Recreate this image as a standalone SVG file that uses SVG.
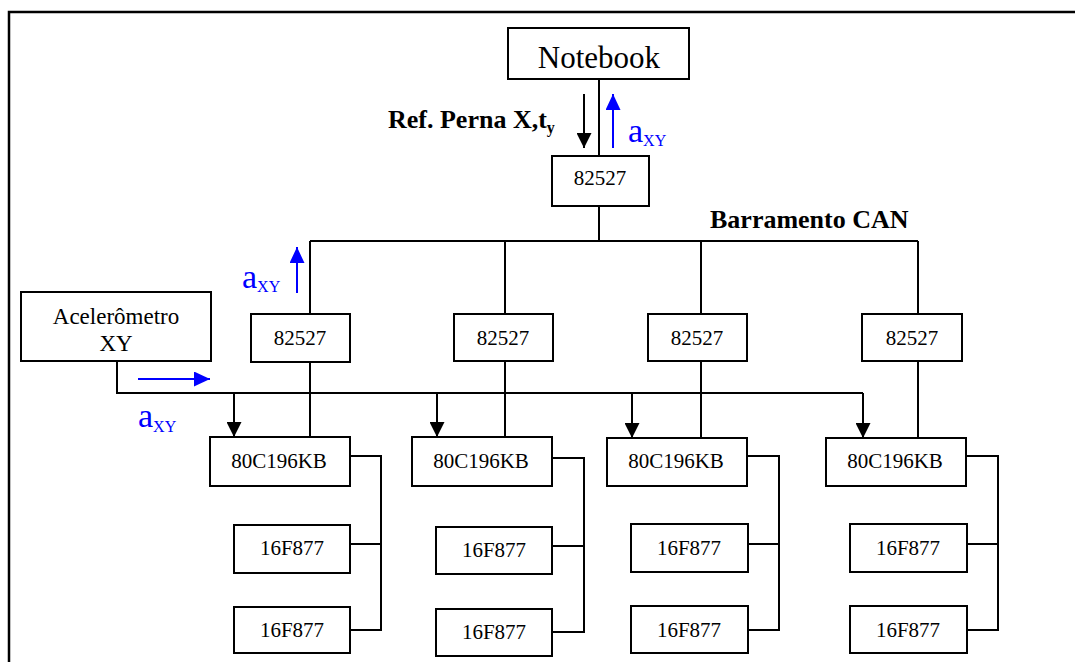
<svg xmlns="http://www.w3.org/2000/svg" width="1075" height="662" viewBox="0 0 1075 662" font-family="'Liberation Serif', 'Times New Roman', serif">
<style>
.box{fill:#fff;stroke:#000;stroke-width:2}
.ln{fill:none;stroke:#000;stroke-width:2}
.bl{fill:none;stroke:#0000ff;stroke-width:2}
.t{font-family:'Liberation Serif','Times New Roman',serif;font-size:21px;fill:#000;text-anchor:middle}
.b{font-family:'Liberation Serif','Times New Roman',serif;font-weight:bold;font-size:26px;fill:#000}
.a{font-family:'Liberation Serif','Times New Roman',serif;font-size:34px;fill:#0000ff}
</style>
<defs>
<marker id="ak" viewBox="0 0 15 15" refX="15" refY="7.5" markerWidth="15" markerHeight="15" markerUnits="userSpaceOnUse" orient="auto"><path d="M0,0 L15,7.5 L0,15 z" fill="#000"/></marker>
<marker id="ab" viewBox="0 0 16 15" refX="16" refY="7.5" markerWidth="16" markerHeight="15" markerUnits="userSpaceOnUse" orient="auto"><path d="M0,0 L16,7.5 L0,15 z" fill="#0000ff"/></marker>
</defs>
<rect width="1075" height="662" fill="#fff"/>
<path d="M9,662 V12 H1075" fill="none" stroke="#000" stroke-width="2.5"/>
<g id="connectors">
<path class="ln" d="M599,79 V156 M599,206 V241 M310,241 H918 M310,241 V314 M505,241 V314 M701,241 V314 M918,241 V314"/>
<path class="ln" d="M310,362 V437 M505,361 V437 M701,361 V438 M918,361 V438"/>
<path class="ln" d="M117,361 V393 H863"/>
<path class="ln" d="M234,393 V437" marker-end="url(#ak)"/>
<path class="ln" d="M437,393 V437" marker-end="url(#ak)"/>
<path class="ln" d="M632,393 V438" marker-end="url(#ak)"/>
<path class="ln" d="M863,393 V438" marker-end="url(#ak)"/>
<path class="ln" d="M350,456 H381 V630 H350 M350,544 H381"/>
<path class="ln" d="M552,458 H584 V632 H552 M552,546 H584"/>
<path class="ln" d="M747,456 H779 V630 H748 M748,544 H779"/>
<path class="ln" d="M966,456 H998 V630 H967 M967,544 H998"/>
<path class="ln" d="M584,94 V148" marker-end="url(#ak)"/>
<path class="bl" d="M613,148 V94" marker-end="url(#ab)"/>
<path class="bl" d="M297,293 V247" marker-end="url(#ab)"/>
<path class="bl" d="M138,379 H210" marker-end="url(#ab)"/>
</g>
<g id="labels">
<text class="b" x="388" y="128">Ref. Perna X,t<tspan font-size="16" dy="5">y</tspan></text>
<text class="a" x="628" y="142">a<tspan font-size="16" dy="4">XY</tspan></text>
<text class="a" x="242" y="288">a<tspan font-size="16" dy="4">XY</tspan></text>
<text class="a" x="138" y="427">a<tspan font-size="16" dy="5">XY</tspan></text>
<text class="b" x="710" y="228">Barramento CAN</text>
</g>
<g id="notebook"><rect class="box" x="508" y="28" width="181" height="51"/><text class="t" x="599" y="68" style="font-size:31px">Notebook</text></g>
<g id="can-top"><rect class="box" x="552" y="156" width="97" height="50"/><text class="t" x="600" y="185">82527</text></g>
<g id="acelerometro"><rect class="box" x="21" y="292" width="190" height="69"/><text class="t" x="116" y="324" style="font-size:23px">Acelerômetro</text><text class="t" x="116" y="351" style="font-size:23px">XY</text></g>
<g id="can1"><rect class="box" x="251" y="314" width="99" height="48"/><text class="t" x="300" y="345">82527</text></g>
<g id="can2"><rect class="box" x="454" y="314" width="99" height="47"/><text class="t" x="503" y="345">82527</text></g>
<g id="can3"><rect class="box" x="648" y="314" width="99" height="47"/><text class="t" x="697" y="345">82527</text></g>
<g id="can4"><rect class="box" x="862" y="314" width="100" height="47"/><text class="t" x="912" y="345">82527</text></g>
<g id="mcu1"><rect class="box" x="210" y="437" width="140" height="49"/><text class="t" x="279" y="468">80C196KB</text></g>
<g id="mcu2"><rect class="box" x="412" y="437" width="140" height="49"/><text class="t" x="481" y="468">80C196KB</text></g>
<g id="mcu3"><rect class="box" x="607" y="438" width="140" height="48"/><text class="t" x="676" y="468">80C196KB</text></g>
<g id="mcu4"><rect class="box" x="826" y="438" width="140" height="48"/><text class="t" x="895" y="468">80C196KB</text></g>
<g id="pic1a"><rect class="box" x="234" y="525" width="116" height="48"/><text class="t" x="292" y="555">16F877</text></g>
<g id="pic1b"><rect class="box" x="234" y="607" width="116" height="46"/><text class="t" x="292" y="637">16F877</text></g>
<g id="pic2a"><rect class="box" x="436" y="527" width="116" height="47"/><text class="t" x="494" y="557">16F877</text></g>
<g id="pic2b"><rect class="box" x="436" y="609" width="116" height="47"/><text class="t" x="494" y="639">16F877</text></g>
<g id="pic3a"><rect class="box" x="631" y="524" width="117" height="48"/><text class="t" x="689" y="555">16F877</text></g>
<g id="pic3b"><rect class="box" x="631" y="606" width="117" height="47"/><text class="t" x="689" y="637">16F877</text></g>
<g id="pic4a"><rect class="box" x="850" y="524" width="117" height="48"/><text class="t" x="908" y="555">16F877</text></g>
<g id="pic4b"><rect class="box" x="850" y="606" width="117" height="47"/><text class="t" x="908" y="637">16F877</text></g>
</svg>
